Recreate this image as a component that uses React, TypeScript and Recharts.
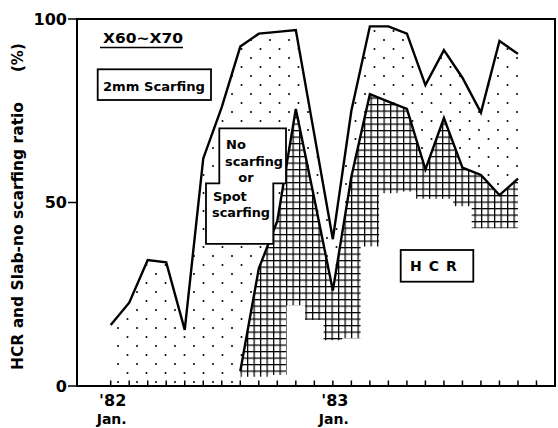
import { AreaChart, Area, XAxis, YAxis, ReferenceArea, ReferenceLine } from 'recharts';

// month index: 0 = '82 Jan., 12 = '83 Jan.
const monthIdx = [0, 1, 2, 3, 4, 5, 6, 7, 8, 9, 10, 11, 12, 13, 14, 15, 16, 17, 18, 19, 20, 21, 22];
const slabNoScarfing = [16.6, 22.7, 34.3, 33.7, 15.3, 62, 76, 92.5, 96, 96.5, 97, 68.5, 40, 75, 98, 98, 96, 82, 91.5, 84, 74.5, 94, 90.5];
const hcr = [null, null, null, null, null, null, null, 4, 32, 45, 75.5, 51, 26, 57, 79.5, 77.5, 75.5, 59, 73, 59.5, 57.5, 52, 56.5];
// lower edge of the hatched HCR band
const hcrLow = [null, null, null, null, null, null, null, 2.5, 2.5, 3, 22, 18, 12.5, 13, 38, 52.5, 53, 51, 51, 49, 43, 43, 43];

const monthTicks = [0, 1, 2, 3, 4, 5, 6, 7, 8, 9, 10, 11, 12, 13, 14, 15, 16, 17, 18, 19, 20, 21, 22, 23];
const tickLabels: Record<number, string[]> = { 0: ["'82", 'Jan.'], 12: ["'83", 'Jan.'] };
const yTicks = [0, 50, 100];

const FONT = '"DejaVu Sans", sans-serif';
const AXIS_Y = 386; // bottom of plot area (428 - 2 - 40)

const data = monthIdx.map((m, i) => ({
    m,
    total: slabNoScarfing[i],
    hcr: hcr[i],
    low: hcrLow[i],
}));

const MonthTick = ({ x, payload }: any) => {
    const lbl = tickLabels[payload.value];
    if (!lbl) return <g />;
    return (
        <g>
            <text x={x + 2} y={AXIS_Y + 20} textAnchor="middle" fontSize={16} fontWeight="bold" fontFamily={FONT} fill="#000">{lbl[0]}</text>
            <text x={x + 1} y={AXIS_Y + 38} textAnchor="middle" fontSize={14} fontWeight="bold" fontFamily={FONT} fill="#000" textLength={30} lengthAdjust="spacingAndGlyphs">{lbl[1]}</text>
        </g>
    );
};

export default function App() {
    return (
        <div style={{ position: 'absolute', left: 0, top: 0, width: 558, height: 428, background: '#fff' }}>
            <AreaChart width={558} height={428} data={data} margin={{ top: 19, right: 3, bottom: 2, left: 0 }}>
                <defs>
                    <pattern id="dots" width={19} height={18} patternUnits="userSpaceOnUse">
                        <circle cx={4} cy={4} r={1} fill="#000" />
                        <circle cx={13.5} cy={13} r={1} fill="#000" />
                    </pattern>
                    <pattern id="grid" width={6.5} height={6.5} patternUnits="userSpaceOnUse">
                        <rect width={6.5} height={6.5} fill="#fff" />
                        <line x1={0.6} y1={0} x2={0.6} y2={6.5} stroke="#000" strokeWidth={1.3} />
                        <line x1={0} y1={0.6} x2={6.5} y2={0.6} stroke="#000" strokeWidth={1.3} />
                    </pattern>
                </defs>
                <Area type="linear" dataKey="total" stroke="#000" strokeWidth={2.4} fill="url(#dots)" fillOpacity={1} isAnimationActive={false} dot={false} activeDot={false} />
                <Area type="linear" dataKey="hcr" stroke="#000" strokeWidth={2.4} fill="url(#grid)" fillOpacity={1} isAnimationActive={false} dot={false} activeDot={false} />
                <Area type="step" dataKey="low" stroke="none" fill="#fff" fillOpacity={1} isAnimationActive={false} dot={false} activeDot={false} />
                {monthTicks.map((t) => (
                    <ReferenceLine key={t} segment={[{ x: t, y: 0 }, { x: t, y: 1.5 }]} stroke="#000" strokeWidth={1.5} ifOverflow="visible" />
                ))}
                <ReferenceArea x1={-1.82} x2={24} y1={0} y2={100} fill="none" stroke="#000" strokeWidth={2} ifOverflow="visible" />
                <XAxis
                    dataKey="m"
                    type="number"
                    domain={[-1.82, 24]}
                    ticks={monthTicks}
                    allowDataOverflow
                    height={40}
                    tickSize={0}
                    tickMargin={0}
                    tick={<MonthTick />}
                    tickLine={false}
                    axisLine={{ stroke: '#000', strokeWidth: 2 }}
                    interval={0}
                />
                <YAxis
                    type="number"
                    domain={[0, 100]}
                    ticks={yTicks}
                    width={77}
                    tickSize={9}
                    tickMargin={1}
                    axisLine={{ stroke: '#000', strokeWidth: 2 }}
                    tickLine={{ stroke: '#000', strokeWidth: 1.5 }}
                    tick={{ fontSize: 16, fontWeight: 'bold', fontFamily: FONT, fill: '#000' }}
                />
            </AreaChart>
            {/* labels and boxes drawn on top */}
            <svg width={558} height={428} style={{ position: 'absolute', left: 0, top: 0, pointerEvents: 'none' }} fontFamily={FONT} fontWeight="bold">
                <text x={103} y={43} fontSize={14} fill="#000" textLength={80} lengthAdjust="spacingAndGlyphs">X60~X70</text>
                <line x1={100} y1={47.5} x2={183} y2={47.5} stroke="#000" strokeWidth={1.5} />

                <rect x={97.7} y={69.3} width={113.3} height={30.7} fill="#fff" stroke="#000" strokeWidth={1.8} />
                <text x={103} y={91} fontSize={13} fill="#000" textLength={102} lengthAdjust="spacingAndGlyphs">2mm Scarfing</text>

                <path d="M219.3,128.3 H286 V183.3 H273.3 V243.8 H206 V183.3 H219.3 Z" fill="#fff" stroke="#000" strokeWidth={1.8} />
                <text x={226} y={148.5} fontSize={13} fill="#000">No</text>
                <text x={225} y={166} fontSize={13} fill="#000" textLength={58} lengthAdjust="spacingAndGlyphs">scarfing</text>
                <text x={246} y={182} fontSize={13} fill="#000" textAnchor="middle">or</text>
                <text x={213} y={201} fontSize={13} fill="#000">Spot</text>
                <text x={212} y={217} fontSize={13} fill="#000" textLength={58} lengthAdjust="spacingAndGlyphs">scarfing</text>

                <rect x={400.7} y={250} width={72.6} height={31.7} fill="#fff" stroke="#000" strokeWidth={1.8} />
                <text x={437} y={271} fontSize={14} fill="#000" textAnchor="middle" letterSpacing={7}>HCR</text>

                <text transform="translate(23,370) rotate(-90)" fontSize={15} fill="#000" textLength={268} lengthAdjust="spacingAndGlyphs">HCR and Slab-no scarfing ratio</text>
                <text transform="translate(23,72) rotate(-90)" fontSize={15} fill="#000">(%)</text>
            </svg>
        </div>
    );
}
